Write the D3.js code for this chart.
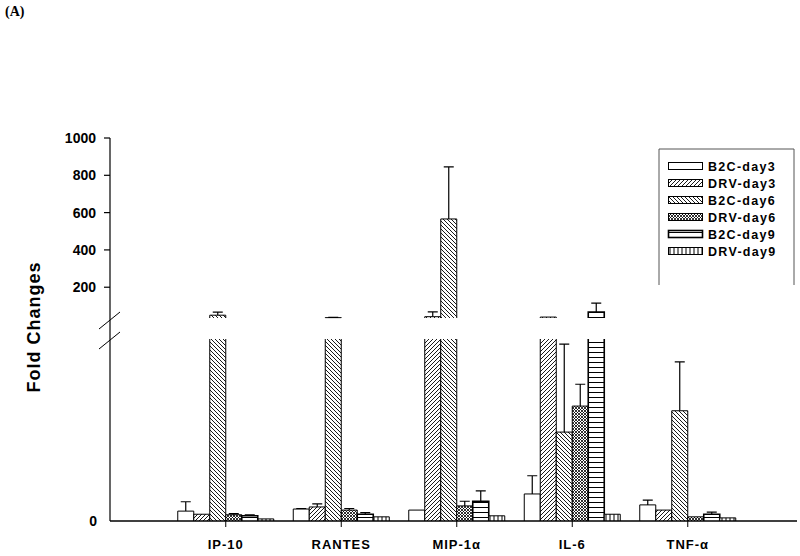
<!DOCTYPE html>
<html>
<head>
<meta charset="utf-8">
<script src="https://cdn.jsdelivr.net/npm/d3@7"></script>
<style>
  body { margin: 0; background: #fff; }
  text { font-family: Arial, "Liberation Sans", sans-serif; font-weight: bold; fill: #000; }
</style>
</head>
<body>
<svg id="chart" width="800" height="556"></svg>
<script>
// chart data
var categories = ["IP-10", "RANTES", "MIP-1\u03b1", "IL-6", "TNF-\u03b1"]
var series = ["B2C-day3", "DRV-day3", "B2C-day6", "DRV-day6", "B2C-day9", "DRV-day9"]

// mean values per series (one per category) and top of error bar
var means = {
  "B2C-day3": [1.9, 2.3, 2.1, 5.2, 3.1],
  "DRV-day3": [1.3, 2.7, 42, 40, 2.1],
  "B2C-day6": [50, 37, 566, 17.1, 21.2],
  "DRV-day6": [1.2, 2.1, 2.9, 22.1, 0.8],
  "B2C-day9": [1.0, 1.3, 3.8, 67, 1.3],
  "DRV-day9": [0.4, 0.8, 1.0, 1.3, 0.6]
}
var errTops = {
  "B2C-day3": [3.7, 2.4, 2.1, 8.7, 4.0],
  "DRV-day3": [1.3, 3.3, 68, 40, 2.1],
  "B2C-day6": [66, 38, 845, 34.0, 30.6],
  "DRV-day6": [1.4, 2.4, 3.8, 26.3, 0.8],
  "B2C-day9": [1.2, 1.6, 5.8, 115, 1.7],
  "DRV-day9": [0.4, 0.8, 1.0, 1.3, 0.6]
}

var upperTicks = [200, 400, 600, 800, 1000]
var breakValue = 35

var svg = d3.select("#chart")

// broken y axis: lower part 0..35, upper part 35..1000
var yLow = d3.scaleLinear().domain([0, breakValue]).range([521, 339])
var yUp = d3.scaleLinear().domain([breakValue, 1000]).range([318, 138])

var x = d3.scaleBand().domain(categories).range([168, 745.5])
var xs = d3.scaleBand().domain(series).range([-48, 48])

// patterns
var defs = svg.append("defs")
function pat(id, size, draw) {
  var p = defs.append("pattern").attr("id", id)
    .attr("patternUnits", "userSpaceOnUse")
    .attr("width", size).attr("height", size)
  p.append("rect").attr("width", size).attr("height", size).attr("fill", "#fff")
  draw(p)
}
pat("p-drv3", 4, function(p){
  p.append("path").attr("d", "M0,4 L4,0 M-1,1 L1,-1 M3,5 L5,3").attr("stroke", "#000").attr("stroke-width", 0.9)
})
pat("p-b2c6", 4, function(p){
  p.append("path").attr("d", "M0,0 L4,4 M-1,3 L1,5 M3,-1 L5,1").attr("stroke", "#000").attr("stroke-width", 0.9)
})
pat("p-drv6", 3, function(p){
  p.append("path").attr("d", "M0,0 L3,3 M0,3 L3,0").attr("stroke", "#000").attr("stroke-width", 0.8)
})
pat("p-b2c9", 5, function(p){
  p.append("path").attr("d", "M0,2.5 L5,2.5").attr("stroke", "#000").attr("stroke-width", 1)
})
pat("p-drv9", 4, function(p){
  p.append("path").attr("d", "M2,0 L2,4").attr("stroke", "#000").attr("stroke-width", 1)
})

var fills = {
  "B2C-day3": "#fff",
  "DRV-day3": "url(#p-drv3)",
  "B2C-day6": "url(#p-b2c6)",
  "DRV-day6": "url(#p-drv6)",
  "B2C-day9": "url(#p-b2c9)",
  "DRV-day9": "url(#p-drv9)"
}
var strokeW = { "B2C-day9": 1.6 }

// title
svg.append("text").attr("x", 5).attr("y", 16)
  .style("font-family", "'Liberation Serif', 'Times New Roman', serif")
  .style("font-size", "14px").text("(A)")

// y axis label
svg.append("text")
  .attr("transform", "translate(40,327) rotate(-90)")
  .attr("text-anchor", "middle")
  .style("font-size", "18px").style("letter-spacing", "1px")
  .text("Fold Changes")

// y axis line
svg.append("line").attr("x1", 110).attr("x2", 110).attr("y1", 138).attr("y2", 521)
  .attr("stroke", "#000").attr("stroke-width", 1.2)

// upper ticks
var yt = svg.append("g")
upperTicks.forEach(function(t){
  yt.append("line").attr("x1", 104).attr("x2", 110).attr("y1", yUp(t)).attr("y2", yUp(t))
    .attr("stroke", "#000").attr("stroke-width", 1.2)
  yt.append("text").attr("x", 96).attr("y", yUp(t)).attr("dy", "0.36em")
    .attr("text-anchor", "end").style("font-size", "14px").text(t)
})
yt.append("text").attr("x", 97).attr("y", yLow(0)).attr("dy", "0.36em")
  .attr("text-anchor", "end").style("font-size", "14px").text(0)

// break marks
svg.append("path").attr("d", "M99,329 L120,312 M99,349 L120,332")
  .attr("stroke", "#000").attr("stroke-width", 1)

// bars
var bars = svg.append("g")
categories.forEach(function(c, i){
  series.forEach(function(s){
    var v = means[s][i]
    var e = errTops[s][i]
    var x0 = x(c) + x.bandwidth() / 2 + xs(s)
    var w = xs.bandwidth()
    var sw = strokeW[s] || 1
    // lower segment
    var lowV = Math.min(v, breakValue)
    var yTop = yLow(lowV)
    bars.append("rect").attr("x", x0).attr("y", yTop).attr("width", w)
      .attr("height", yLow(0) - yTop).attr("fill", fills[s])
    if (v <= breakValue) {
      bars.append("path")
        .attr("d", "M" + x0 + "," + yLow(0) + " V" + yTop + " H" + (x0 + w) + " V" + yLow(0))
        .attr("fill", "none").attr("stroke", "#000").attr("stroke-width", sw)
    } else {
      bars.append("path")
        .attr("d", "M" + x0 + "," + yLow(0) + " V" + yTop + " M" + (x0 + w) + "," + yTop + " V" + yLow(0))
        .attr("fill", "none").attr("stroke", "#000").attr("stroke-width", sw)
      // upper segment piece
      var yT = yUp(v)
      bars.append("rect").attr("x", x0).attr("y", yT).attr("width", w)
        .attr("height", yUp(breakValue) - yT).attr("fill", fills[s])
      bars.append("path")
        .attr("d", "M" + x0 + "," + yUp(breakValue) + " V" + yT + " H" + (x0 + w) + " V" + yUp(breakValue))
        .attr("fill", "none").attr("stroke", "#000").attr("stroke-width", sw)
    }
    // error bar (upper half only)
    if (e > v) {
      var yScale = v > breakValue ? yUp : yLow
      var xc = x0 + w / 2
      bars.append("path")
        .attr("d", "M" + xc + "," + yScale(v) + " V" + yScale(e) + " M" + (xc - 5) + "," + yScale(e) + " H" + (xc + 5))
        .attr("fill", "none").attr("stroke", "#000").attr("stroke-width", 1.2)
    }
  })
})

// x axis
svg.append("line").attr("x1", 110).attr("x2", 797).attr("y1", 521).attr("y2", 521)
  .attr("stroke", "#000").attr("stroke-width", 1.5)
categories.forEach(function(c){
  var cx = x(c) + x.bandwidth() / 2
  svg.append("line").attr("x1", cx).attr("x2", cx).attr("y1", 521).attr("y2", 527)
    .attr("stroke", "#000").attr("stroke-width", 1)
  svg.append("text").attr("x", cx).attr("y", 549).attr("text-anchor", "middle")
    .style("font-size", "13px").style("letter-spacing", "1px").text(c)
})

// legend
var lg = svg.append("g")
lg.append("path").attr("d", "M659,285 V149 H794 V285")
  .attr("fill", "none").attr("stroke", "#555").attr("stroke-width", 1)
series.forEach(function(s, i){
  var yy = 166 + i * 17
  lg.append("rect").attr("x", 668.5).attr("y", yy - 3.5).attr("width", 34).attr("height", 7)
    .attr("fill", fills[s]).attr("stroke", "#000").attr("stroke-width", strokeW[s] || 1)
  lg.append("text").attr("x", 708).attr("y", yy).attr("dy", "0.36em")
    .style("font-size", "12.5px").style("letter-spacing", "1.3px").text(s)
})
</script>
</body>
</html>
